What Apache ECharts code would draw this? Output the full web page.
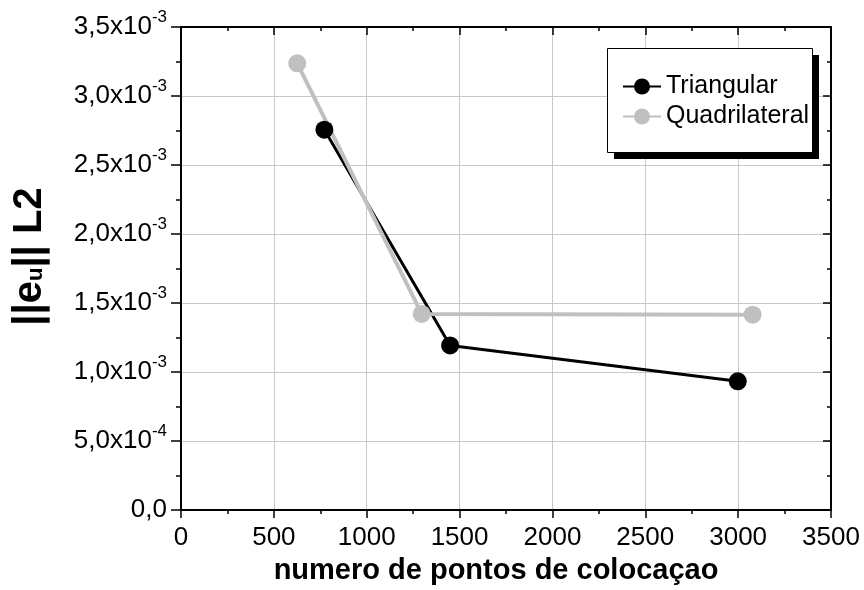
<!DOCTYPE html>
<html>
<head>
<meta charset="utf-8">
<script src="https://cdn.jsdelivr.net/npm/echarts@6/dist/echarts.min.js"></script>
<style>html,body{margin:0;padding:0;background:#fff}#c{width:864px;height:590px}</style>
</head>
<body>
<div id="c"></div>
<script>
const seriesNames = ['Triangular', 'Quadrilateral'];
const triX = [772, 1449, 2998];
const triY = [2.756e-3, 1.193e-3, 0.933e-3];
const quadX = [626, 1296, 3078];
const quadY = [3.237e-3, 1.421e-3, 1.416e-3];
const xTickLabels = ['0', '500', '1000', '1500', '2000', '2500', '3000', '3500'];
const yTickMant = ['0,0', '5,0x10', '1,0x10', '1,5x10', '2,0x10', '2,5x10', '3,0x10', '3,5x10'];
const yTickExp = ['', '-4', '-3', '-3', '-3', '-3', '-3', '-3'];
const xTitle = 'numero de pontos de colocaçao';
const yTitle = '||e{s|u}|| L2';

const FONT = '"Liberation Sans", Arial, sans-serif';
const chart = echarts.init(document.getElementById('c'), null, {renderer: 'canvas'});

function pairs(xs, ys) { return xs.map((x, i) => [x, ys[i]]); }

const axisCommonX = {type: 'value', min: 0, max: 3500, interval: 500};
const axisCommonY = {type: 'value', min: 0, max: 0.0035, interval: 0.0005};

chart.setOption({
  animation: false,
  backgroundColor: '#fff',
  textStyle: {fontFamily: FONT},
  grid: {left: 181, right: 33, top: 27, bottom: 78, containLabel: false},
  graphic: {
    elements: [
      {type: 'rect', z: 1, silent: true, shape: {x: 614, y: 55, width: 205, height: 104},
        style: {fill: '#000'}},
      {type: 'rect', z: 2, silent: true, shape: {x: 607.5, y: 48.5, width: 205, height: 104},
        style: {fill: '#fff', stroke: '#000', lineWidth: 1}}
    ]
  },
  legend: {
    data: seriesNames,
    orient: 'vertical',
    z: 10,
    left: 607, top: 48,
    itemWidth: 38, itemHeight: 20, itemGap: 5,
    padding: [26, 3, 23, 15],
    backgroundColor: 'transparent',
    textStyle: {fontSize: 25, color: '#000', fontFamily: FONT}
  },
  xAxis: [
    Object.assign({}, axisCommonX, {
      position: 'bottom',
      name: xTitle, nameLocation: 'middle', nameGap: 45,
      nameTextStyle: {fontSize: 29, fontWeight: 'bold', color: '#000', fontFamily: FONT,
        padding: [0, 20, 0, 0]},
      axisLine: {show: true, onZero: false, lineStyle: {color: '#000', width: 2}},
      axisTick: {show: true, inside: false, length: 8, lineStyle: {color: '#000', width: 1.5}},
      minorTick: {show: true, splitNumber: 2, length: 4, lineStyle: {color: '#000', width: 1.5}},
      axisLabel: {fontSize: 26, color: '#000', margin: 15, fontFamily: FONT,
        formatter: function (v) { return xTickLabels[Math.round(v / 500)]; }},
      splitLine: {show: true, lineStyle: {color: '#c8c8c8', width: 1}}
    }),
    Object.assign({}, axisCommonX, {
      position: 'top',
      axisLine: {show: true, onZero: false, lineStyle: {color: '#000', width: 2}},
      axisTick: {show: true, inside: true, length: 8, lineStyle: {color: '#000', width: 1.5}},
      minorTick: {show: true, splitNumber: 2, length: 4, lineStyle: {color: '#000', width: 1.5}},
      axisLabel: {show: false},
      splitLine: {show: false}
    })
  ],
  yAxis: [
    Object.assign({}, axisCommonY, {
      position: 'left',
      name: yTitle, nameLocation: 'middle', nameGap: 131,
      nameTextStyle: {fontSize: 40, lineHeight: 40, fontWeight: 'bold', color: '#000', fontFamily: FONT,
        padding: [0, 0, 0, 24],
        rich: {s: {fontSize: 22, lineHeight: 22, fontWeight: 'bold', color: '#000', fontFamily: FONT,
          verticalAlign: 'bottom', padding: [0, 0, 3, 0]}}},
      axisLine: {show: true, onZero: false, lineStyle: {color: '#000', width: 2}},
      axisTick: {show: true, inside: false, length: 10, lineStyle: {color: '#000', width: 1.5}},
      minorTick: {show: true, splitNumber: 2, length: 5, lineStyle: {color: '#000', width: 1.5}},
      axisLabel: {
        margin: 14, color: '#000',
        formatter: function (v) {
          const i = Math.round(v / 0.0005);
          return '{m|' + yTickMant[i] + '}' + (yTickExp[i] ? '{s|' + yTickExp[i] + '}' : '');
        },
        rich: {
          m: {fontSize: 26, lineHeight: 36, color: '#000', fontFamily: FONT},
          s: {fontSize: 17, lineHeight: 17, verticalAlign: 'top', color: '#000', fontFamily: FONT}
        }
      },
      splitLine: {show: true, lineStyle: {color: '#c8c8c8', width: 1}}
    }),
    Object.assign({}, axisCommonY, {
      position: 'right',
      axisLine: {show: true, onZero: false, lineStyle: {color: '#000', width: 2}},
      axisTick: {show: true, inside: true, length: 8, lineStyle: {color: '#000', width: 1.5}},
      minorTick: {show: true, splitNumber: 2, length: 4, lineStyle: {color: '#000', width: 1.5}},
      axisLabel: {show: false},
      splitLine: {show: false}
    })
  ],
  series: [
    {
      name: seriesNames[0], type: 'line', xAxisIndex: 0, yAxisIndex: 0,
      data: pairs(triX, triY),
      symbol: 'circle', symbolSize: 18, showSymbol: true,
      lineStyle: {color: '#000', width: 3},
      itemStyle: {color: '#000'},
      emphasis: {disabled: true}
    },
    {
      name: seriesNames[1], type: 'line', xAxisIndex: 0, yAxisIndex: 0,
      data: pairs(quadX, quadY),
      symbol: 'circle', symbolSize: 18, showSymbol: true,
      lineStyle: {color: '#c0c0c0', width: 4},
      itemStyle: {color: '#c0c0c0'},
      emphasis: {disabled: true}
    }
  ]
});
</script>
</body>
</html>
